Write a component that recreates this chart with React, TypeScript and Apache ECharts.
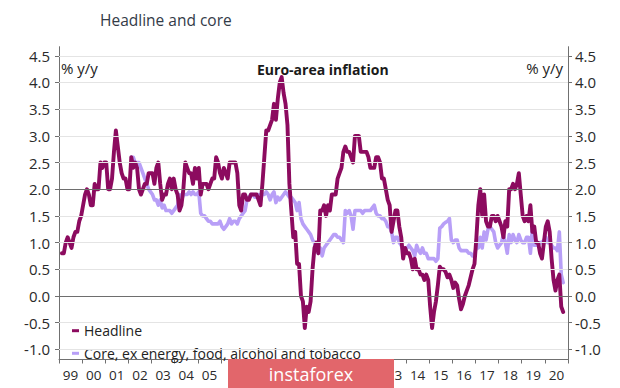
import React, { useEffect, useRef } from "react";
import * as echarts from "echarts";

// Monthly euro-area HICP, % y/y, starting Jan 1999
const startYear = 1999;
const headline: number[] = [
  // 1999
  0.8, 0.8, 1.0, 1.1, 1.0, 0.9, 1.1, 1.2, 1.2, 1.4, 1.5, 1.7,
  // 2000
  1.9, 2.0, 1.9, 1.7, 1.7, 2.1, 2.0, 2.0, 2.5, 2.4, 2.5, 2.5,
  // 2001
  2.0, 2.0, 2.2, 2.7, 3.1, 2.8, 2.5, 2.3, 2.2, 2.2, 2.0, 2.0,
  // 2002
  2.6, 2.4, 2.5, 2.4, 2.0, 1.9, 2.0, 2.1, 2.1, 2.3, 2.3, 2.3,
  // 2003
  2.1, 2.4, 2.5, 2.1, 1.8, 1.9, 1.9, 2.1, 2.2, 2.0, 2.2, 2.0,
  // 2004
  1.9, 1.6, 1.7, 2.0, 2.5, 2.4, 2.3, 2.3, 2.1, 2.4, 2.2, 2.4,
  // 2005
  1.9, 2.1, 2.1, 2.1, 2.0, 2.1, 2.2, 2.2, 2.6, 2.5, 2.3, 2.2,
  // 2006
  2.4, 2.3, 2.2, 2.5, 2.5, 2.5, 2.5, 2.3, 1.7, 1.6, 1.9, 1.9,
  // 2007
  1.8, 1.8, 1.9, 1.9, 1.9, 1.9, 1.8, 1.7, 2.1, 2.6, 3.1, 3.1,
  // 2008
  3.2, 3.3, 3.6, 3.3, 3.7, 4.0, 4.1, 3.8, 3.6, 3.2, 2.1, 1.6,
  // 2009
  1.1, 1.2, 0.6, 0.6, 0.0, -0.1, -0.6, -0.2, -0.3, -0.1, 0.5, 0.9,
  // 2010
  1.0, 0.8, 1.6, 1.6, 1.7, 1.5, 1.7, 1.6, 1.9, 1.9, 1.9, 2.2,
  // 2011
  2.3, 2.4, 2.7, 2.8, 2.7, 2.7, 2.6, 2.5, 3.0, 3.0, 3.0, 2.7,
  // 2012
  2.7, 2.7, 2.7, 2.6, 2.4, 2.4, 2.4, 2.6, 2.6, 2.5, 2.2, 2.2,
  // 2013
  2.0, 1.8, 1.7, 1.2, 1.4, 1.6, 1.6, 1.3, 1.1, 0.7, 0.9, 0.8,
  // 2014
  0.8, 0.7, 0.5, 0.7, 0.5, 0.5, 0.4, 0.4, 0.3, 0.4, 0.3, -0.2,
  // 2015
  -0.6, -0.3, -0.1, 0.2, 0.55, 0.5, 0.5, 0.45, 0.35, 0.4, 0.3, 0.15,
  // 2016
  0.25, 0.2, -0.05, -0.25, -0.15, 0.0, 0.1, 0.2, 0.35, 0.5, 0.6, 1.1,
  // 2017
  1.7, 2.0, 1.5, 1.9, 1.4, 1.3, 1.3, 1.5, 1.5, 1.4, 1.5, 1.4,
  // 2018
  1.3, 1.1, 1.4, 1.3, 2.0, 2.0, 2.1, 2.0, 2.1, 2.3, 1.9, 1.5,
  // 2019
  1.4, 1.5, 1.4, 1.7, 1.2, 1.3, 1.0, 1.0, 0.8, 0.7, 1.0, 1.3,
  // 2020
  1.4, 1.2, 0.7, 0.3, 0.1, 0.3, 0.4, -0.2, -0.3,
];

// Core (ex energy, food, alcohol and tobacco), starting Jan 2002
const coreStartYear = 2002;
const core: number[] = [
  // 2002
  2.6, 2.6, 2.5, 2.5, 2.5, 2.4, 2.3, 2.2, 2.1, 2.0, 1.95, 1.9,
  // 2003
  1.8, 1.8, 1.7, 1.8, 1.65, 1.7, 1.6, 1.6, 1.6, 1.55, 1.6, 1.65,
  // 2004
  1.7, 1.9, 1.8, 1.9, 1.9, 1.9, 1.95, 1.9, 1.95, 1.9, 1.9, 1.95,
  // 2005
  1.55, 1.5, 1.5, 1.45, 1.4, 1.4, 1.35, 1.35, 1.35, 1.35, 1.4, 1.3,
  // 2006
  1.25, 1.3, 1.35, 1.45, 1.35, 1.4, 1.4, 1.35, 1.45, 1.5, 1.55, 1.6,
  // 2007
  1.8, 1.85, 1.9, 1.9, 1.85, 1.85, 1.9, 1.85, 1.9, 1.9, 1.95, 1.9,
  // 2008
  1.8, 1.9, 1.95, 1.75, 1.85, 1.8, 1.85, 1.9, 1.95, 1.9, 1.85, 1.85,
  // 2009
  1.8, 1.75, 1.6, 1.75, 1.45, 1.35, 1.3, 1.25, 1.2, 1.15, 1.05, 1.0,
  // 2010
  0.85, 0.8, 0.9, 0.75, 0.9, 0.95, 1.0, 1.05, 1.1, 1.15, 1.15, 1.1,
  // 2011
  1.1, 1.05, 1.0, 1.6, 1.55, 1.6, 1.5, 1.25, 1.6, 1.6, 1.6, 1.6,
  // 2012
  1.55, 1.6, 1.6, 1.6, 1.6, 1.65, 1.7, 1.55, 1.5, 1.5, 1.45, 1.45,
  // 2013
  1.4, 1.3, 1.3, 1.2, 1.0, 1.1, 1.1, 1.0, 0.95, 0.85, 0.9, 0.9,
  // 2014
  0.95, 0.9, 0.85, 0.75, 0.95, 0.85, 0.8, 0.9, 0.8, 0.8, 0.7, 0.7,
  // 2015
  0.7, 0.7, 0.65, 0.7, 1.27, 1.3, 1.35, 1.38, 1.4, 1.45, 1.05, 1.0,
  // 2016
  1.05, 1.05, 0.9, 0.85, 0.85, 0.85, 0.85, 0.8, 0.8, 0.75, 0.8, 0.9,
  // 2017
  0.9, 1.1, 0.9, 1.2, 1.05, 1.25, 1.3, 1.25, 1.2, 1.0, 0.9, 0.95,
  // 2018
  1.0, 1.15, 1.0, 0.8, 1.15, 1.0, 1.15, 1.05, 1.0, 1.15, 1.05, 1.0,
  // 2019
  1.0, 1.1, 1.1, 0.8, 1.25, 0.95, 0.95, 0.95, 1.0, 1.0, 1.05, 1.1,
  // 2020
  1.0, 1.0, 0.95, 0.9, 0.9, 0.85, 1.2, 0.4, 0.25,
];

const yTicks = [-1.0, -0.5, 0.0, 0.5, 1.0, 1.5, 2.0, 2.5, 3.0, 3.5, 4.0, 4.5];
const refLines = [0.0, 2.0];
const xYears = [
  1999, 2000, 2001, 2002, 2003, 2004, 2005, 2006, 2007, 2008, 2009, 2010,
  2011, 2012, 2013, 2014, 2015, 2016, 2017, 2018, 2019, 2020,
];
// years whose labels sit under the watermark band in the reference
const hiddenYears = [2006, 2007, 2008, 2009, 2010, 2011, 2012];

const FONT = '"Open Sans", "DejaVu Sans", sans-serif';
const HEAD_COLOR = "#8c0b5f";
const CORE_COLOR = "#b89ff7";

function toPoints(vals: number[], y0: number): [number, number][] {
  return vals.map((v, i) => [y0 + (i + 1.5) / 12, v]);
}

export default function App() {
  const ref = useRef<HTMLDivElement>(null);

  useEffect(() => {
    if (!ref.current) return;
    const chart = echarts.init(ref.current, null, { renderer: "svg" });

    const labelValues = xYears.filter((y) => !hiddenYears.includes(y)).map((y) => y + 0.5);
    const yAxisCommon = {
      type: "value",
      min: -1.19,
      max: 4.67,
      axisLine: { show: true, lineStyle: { color: "#707070", width: 1 } },
      axisTick: {
        show: true,
        length: 4,
        customValues: yTicks,
        lineStyle: { color: "#707070" },
      },
      splitLine: { show: false },
    };

    chart.setOption({
      animation: false,
      textStyle: { fontFamily: FONT },
      grid: { left: 59, right: 52, top: 46.7, bottom: 28.5, containLabel: false },
      legend: {
        orient: "vertical",
        left: 67,
        top: 317.7,
        itemWidth: 7,
        itemHeight: 3,
        itemGap: 6.6,
        icon: "rect",
        selectedMode: false,
        textStyle: { fontSize: 14, fontFamily: FONT, color: "#222", lineHeight: 16 },
        data: ["Headline", "Core, ex energy, food, alcohol and tobacco"],
      },
      xAxis: {
        type: "value",
        min: 1999,
        max: 2021,
        interval: 1,
        axisLine: { show: true, onZero: false, lineStyle: { color: "#707070" } },
        axisTick: { show: true, length: 4, lineStyle: { color: "#707070" } },
        axisLabel: {
          customValues: labelValues,
          formatter: (v: number) => String(Math.floor(v) % 100).padStart(2, "0"),
          color: "#2a2a2a",
          fontSize: 13.5,
          fontFamily: FONT,
          margin: 8,
        },
        splitLine: { show: false },
      },
      yAxis: [
        {
          ...yAxisCommon,
          position: "left",
          axisLabel: {
            customValues: yTicks,
            formatter: (v: number) => v.toFixed(1),
            color: "#2a2a2a",
            fontSize: 15,
            fontFamily: FONT,
            margin: 9,
          },
        },
        {
          ...yAxisCommon,
          position: "right",
          axisLabel: {
            customValues: yTicks,
            formatter: (v: number) => v.toFixed(1),
            color: "#2a2a2a",
            fontSize: 15,
            fontFamily: FONT,
            margin: 7,
          },
        },
      ],
      series: [
        {
          name: "grid",
          type: "line",
          data: [],
          silent: true,
          z: 1,
          markLine: {
            silent: true,
            symbol: "none",
            label: { show: false },
            animation: false,
            data: yTicks.map((v) => ({
              yAxis: v,
              lineStyle: {
                color: refLines.includes(v) ? "#6e6e6e" : "#e4e4e4",
                width: refLines.includes(v) ? 1.2 : 1,
                type: "solid",
              },
            })),
          },
        },
        {
          name: "Core, ex energy, food, alcohol and tobacco",
          type: "line",
          data: toPoints(core, coreStartYear),
          showSymbol: false,
          symbol: "none",
          color: CORE_COLOR,
          lineStyle: { color: CORE_COLOR, width: 3.6, join: "round", cap: "round" },
          z: 2,
        },
        {
          name: "Headline",
          type: "line",
          data: toPoints(headline, startYear),
          showSymbol: false,
          symbol: "none",
          color: HEAD_COLOR,
          lineStyle: { color: HEAD_COLOR, width: 3.9, join: "round", cap: "round" },
          z: 3,
        },
      ],
      graphic: [
        {
          type: "text",
          z: 100,
          style: {
            text: "Headline and core",
            x: 100,
            y: 20,
            align: "left",
            verticalAlign: "middle",
            fontSize: 15.5,
            fontFamily: FONT,
            fill: "#333b48",
          },
        },
        {
          type: "text",
          z: 100,
          style: {
            text: "Euro-area inflation",
            x: 257,
            y: 69,
            align: "left",
            verticalAlign: "middle",
            fontSize: 14,
            fontWeight: "bold",
            fontFamily: FONT,
            fill: "#1a1a1a",
          },
        },
        {
          type: "text",
          z: 100,
          style: {
            text: "% y/y",
            x: 61,
            y: 68.3,
            align: "left",
            verticalAlign: "middle",
            fontSize: 15,
            fontFamily: FONT,
            fill: "#222",
          },
        },
        {
          type: "text",
          z: 100,
          style: {
            text: "% y/y",
            x: 563,
            y: 68.3,
            align: "right",
            verticalAlign: "middle",
            fontSize: 15,
            fontFamily: FONT,
            fill: "#222",
          },
        },
        {
          type: "rect",
          z: 100,
          shape: { x: 228, y: 359, width: 166, height: 29 },
          style: { fill: "#e2666b" },
        },
        {
          type: "text",
          z: 101,
          style: {
            text: "instaforex",
            x: 311,
            y: 373.5,
            align: "center",
            verticalAlign: "middle",
            fontSize: 18,
            fontFamily: FONT,
            fill: "#ffffff",
          },
        },
      ],
    });

    return () => chart.dispose();
  }, []);

  return (
    <div
      ref={ref}
      style={{ position: "fixed", left: 0, top: 0, width: 620, height: 388, background: "#fff" }}
    />
  );
}
